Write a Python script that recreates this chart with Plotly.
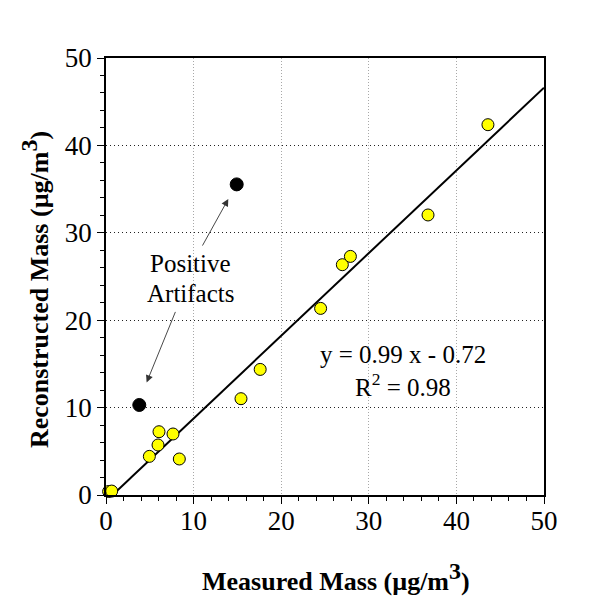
import plotly.graph_objects as go

# Data
measured = [0.3, 0.65, 4.95, 5.94, 6.05, 7.65, 8.37, 15.41, 17.6, 24.5, 26.98, 27.9, 36.76, 43.6]
reconstructed = [0.4, 0.45, 4.42, 5.72, 7.24, 6.98, 4.12, 11.02, 14.37, 21.35, 26.35, 27.3, 32.04, 42.37]

artifact_measured = [3.8, 14.92]
artifact_reconstructed = [10.3, 35.54]

fit_x = [0.75, 50.0]
fit_y = [0.0, 46.6]

x_ticks = [0, 10, 20, 30, 40, 50]
y_ticks = [0, 10, 20, 30, 40, 50]

FONT = "Liberation Serif"

fig = go.Figure()

fig.add_trace(go.Scatter(x=fit_x, y=fit_y, mode="lines",
                         line=dict(color="black", width=2), showlegend=False,
                         hoverinfo="skip"))
fig.add_trace(go.Scatter(x=measured, y=reconstructed, mode="markers",
                         marker=dict(color="#FFFF00", size=12,
                                     line=dict(color="black", width=1)),
                         cliponaxis=False, showlegend=False))
fig.add_trace(go.Scatter(x=artifact_measured, y=artifact_reconstructed, mode="markers",
                         marker=dict(color="black", size=13,
                                     line=dict(color="black", width=1)),
                         cliponaxis=False, showlegend=False))

axis_common = dict(range=[0, 50], tickmode="array", ticks="outside", ticklen=7,
                   tickcolor="black", tickwidth=1, showline=True, linecolor="black",
                   linewidth=1.5, mirror=True, zeroline=False,
                   tickfont=dict(family=FONT, size=27, color="black"),
                   gridwidth=1,
                   minor=dict(dtick=2, ticks="outside", ticklen=4, tickcolor="black",
                              showgrid=False))

fig.update_xaxes(**axis_common, tickvals=x_ticks, ticktext=[str(v) for v in x_ticks],
                 showgrid=True, gridcolor="#a8a8a8", griddash="1px,2px",
                 ticklabelstandoff=-6)
fig.update_yaxes(**axis_common, tickvals=y_ticks, ticktext=[str(v) for v in y_ticks],
                 showgrid=True, gridcolor="#222222", griddash="1px,3px")

annotations = [
    dict(x=13.96, y=33.87, ax=10.92, ay=28.37, xref="x", yref="y", axref="x", ayref="y",
         text="", showarrow=True, arrowhead=2, arrowsize=1.6, arrowwidth=0.9,
         arrowcolor="#333333"),
    dict(x=4.64, y=12.88, ax=7.99, ay=21.12, xref="x", yref="y", axref="x", ayref="y",
         text="", showarrow=True, arrowhead=2, arrowsize=1.6, arrowwidth=0.9,
         arrowcolor="#333333"),
    dict(x=9.65, y=26.5, xref="x", yref="y", text="Positive", showarrow=False,
         font=dict(family=FONT, size=25, color="black")),
    dict(x=9.65, y=23.1, xref="x", yref="y", text="Artifacts", showarrow=False,
         font=dict(family=FONT, size=25, color="black")),
    dict(x=33.9, y=16.1, xref="x", yref="y", text="y = 0.99 x - 0.72", showarrow=False,
         font=dict(family=FONT, size=25, color="black")),
    dict(x=33.9, y=12.55, xref="x", yref="y", text="R<sup>2</sup> = 0.98", showarrow=False,
         font=dict(family=FONT, size=25, color="black")),
    dict(x=0.525, y=-0.1876, xref="paper", yref="paper", xanchor="center", yanchor="middle",
         text="<b>Measured Mass (µg/m<sup><span style='font-size:24px'>3</span></sup>)</b>",
         showarrow=False, font=dict(family=FONT, size=26, color="black")),
    dict(x=-0.162, y=0.469, xref="paper", yref="paper", xanchor="center", yanchor="middle",
         textangle=-90,
         text="<b>Reconstructed Mass (µg/m<sup><span style='font-size:24px'>3</span></sup>)</b>",
         showarrow=False, font=dict(family=FONT, size=26, color="black")),
]

fig.update_layout(width=600, height=607, margin=dict(l=98, r=64, t=50, b=120),
                  paper_bgcolor="white", plot_bgcolor="white",
                  annotations=annotations, showlegend=False)

fig.write_html("out.html")
